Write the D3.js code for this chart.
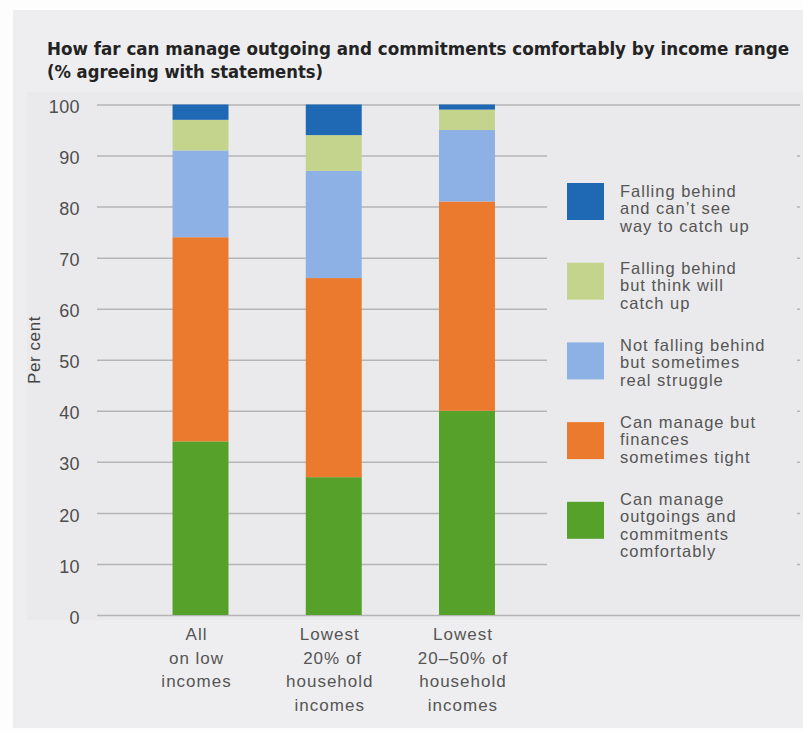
<!DOCTYPE html>
<html>
<head>
<meta charset="utf-8">
<script src="https://cdn.jsdelivr.net/npm/d3@7"></script>
<style>
  html, body { margin: 0; padding: 0; background: #fdfdfd; }
  svg { display: block; }
</style>
</head>
<body>
<svg id="chart" width="803" height="732"></svg>
<script>
// Income groups (x axis) and their wrapped tick labels
const categories = ["all", "lowest20", "lowest20to50"];
const categoryLabels = [
  ["All", "on low", "incomes"],
  ["Lowest", "\u00a020% of", "household", "incomes"],
  ["Lowest", "20\u201350% of", "household", "incomes"]
];

// % agreeing with each statement, per income group (stacked bottom to top)
const comfortably = [34, 27, 40];
const sometimesTight = [40, 39, 41];
const realStruggle = [17, 21, 14];
const willCatchUp = [6, 7, 4];
const cantCatchUp = [3, 6, 1];

const seriesKeys = ["comfortably", "sometimesTight", "realStruggle", "willCatchUp", "cantCatchUp"];
const seriesColors = ["#55a12a", "#ec7a2e", "#8db0e5", "#c4d48d", "#1f68b3"];
const seriesLabels = [
  ["Can manage", "outgoings and", "commitments", "comfortably"],
  ["Can manage but", "finances", "sometimes tight"],
  ["Not falling behind", "but sometimes", "real struggle"],
  ["Falling behind", "but think will", "catch up"],
  ["Falling behind", "and can\u2019t see", "way to catch up"]
];

const yTicks = [0, 10, 20, 30, 40, 50, 60, 70, 80, 90, 100];
const titleLines = [
  "How far can manage outgoing and commitments comfortably by income range",
  "(% agreeing with statements)"
];
const yAxisTitle = "Per cent";

// Build rows for d3.stack
const rows = categories.map((c, i) => ({
  category: c,
  comfortably: comfortably[i],
  sometimesTight: sometimesTight[i],
  realStruggle: realStruggle[i],
  willCatchUp: willCatchUp[i],
  cantCatchUp: cantCatchUp[i]
}));
const stacked = d3.stack().keys(seriesKeys)(rows);

const svg = d3.select("#chart");
const W = 803, H = 732;
const textFont = "'Liberation Sans', Arial, Helvetica, sans-serif";
const plotFill = "#eaeaec";

// Panel backgrounds
svg.append("rect").attr("x", 13).attr("y", 10).attr("width", W - 13).attr("height", 718)
  .attr("fill", "#eeeef0");
svg.append("rect").attr("x", 27).attr("y", 92).attr("width", W - 27).attr("height", 528)
  .attr("fill", plotFill);

// Scales
const y = d3.scaleLinear().domain([0, 100]).range([615, 104.5]);
const x = d3.scaleBand().domain(categories).range([133.9, 533.6])
  .paddingInner(0.58).paddingOuter(0.29);
const color = d3.scaleOrdinal().domain(seriesKeys).range(seriesColors);

// Y axis with full-width gridlines
const axisX = 97;
const yAxis = svg.append("g")
  .attr("transform", `translate(${axisX},0)`)
  .call(d3.axisLeft(y).tickValues(yTicks).tickSize(-(W - 3 - axisX)).tickPadding(17));
yAxis.select(".domain").remove();
yAxis.selectAll(".tick line").attr("stroke", "#b5b5b7").attr("stroke-width", 1.5);
yAxis.selectAll(".tick text")
  .attr("font-family", textFont).attr("font-size", 18).attr("fill", "#4e4e4e")
  .attr("letter-spacing", 0.4).attr("dy", "0.45em");

// Legend backdrop hides gridlines behind the key
svg.append("rect").attr("x", 547).attr("y", 140).attr("width", 250).attr("height", 455)
  .attr("fill", plotFill);

// Y axis title
svg.append("text")
  .attr("transform", "translate(40,350) rotate(-90)")
  .attr("text-anchor", "middle")
  .attr("font-family", textFont).attr("font-size", 17).attr("fill", "#444")
  .attr("letter-spacing", 0.6)
  .text(yAxisTitle);

// Stacked bars
svg.append("g").selectAll("g")
  .data(stacked)
  .join("g")
  .attr("fill", d => color(d.key))
  .selectAll("rect")
  .data(d => d)
  .join("rect")
  .attr("x", d => x(d.data.category))
  .attr("width", x.bandwidth())
  .attr("y", d => y(d[1]))
  .attr("height", d => y(d[0]) - y(d[1]));

// X tick labels (multi-line)
const lineBase = 640, lineStep = 23.5;
const xLabels = svg.append("g");
categories.forEach((c, i) => {
  const t = xLabels.append("text")
    .attr("text-anchor", "middle")
    .attr("font-family", textFont).attr("font-size", 17).attr("fill", "#555")
    .attr("letter-spacing", 1);
  categoryLabels[i].forEach((line, j) => {
    t.append("tspan")
      .attr("x", x(c) + x.bandwidth() / 2 - 4)
      .attr("y", lineBase + j * lineStep)
      .text(line);
  });
});

// Title
titleLines.forEach((line, i) => {
  svg.append("text")
    .attr("x", 47).attr("y", i === 0 ? 54.5 : 77.5)
    .attr("font-family", "'Liberation Sans Narrow', 'DejaVu Sans Condensed', Arial, sans-serif")
    .attr("font-weight", "bold").attr("font-size", 18).attr("fill", "#232323")
    .attr("textLength", i === 0 ? 742 : 276).attr("lengthAdjust", "spacingAndGlyphs")
    .text(line);
});

// Legend (top entry = top of stack)
const legendOrder = seriesKeys.slice().reverse();
const legend = svg.append("g");
legendOrder.forEach((key, i) => {
  const idx = seriesKeys.indexOf(key);
  const baseY = 197 + i * 77;
  legend.append("rect")
    .attr("x", 567).attr("y", 183 + i * 79.7)
    .attr("width", 37).attr("height", 37)
    .attr("fill", color(key));
  const t = legend.append("text")
    .attr("font-family", textFont).attr("font-size", 16.5).attr("fill", "#555")
    .attr("letter-spacing", 1);
  seriesLabels[idx].forEach((line, j) => {
    t.append("tspan").attr("x", 620).attr("y", baseY + j * 17.3).text(line);
  });
});
</script>
</body>
</html>
